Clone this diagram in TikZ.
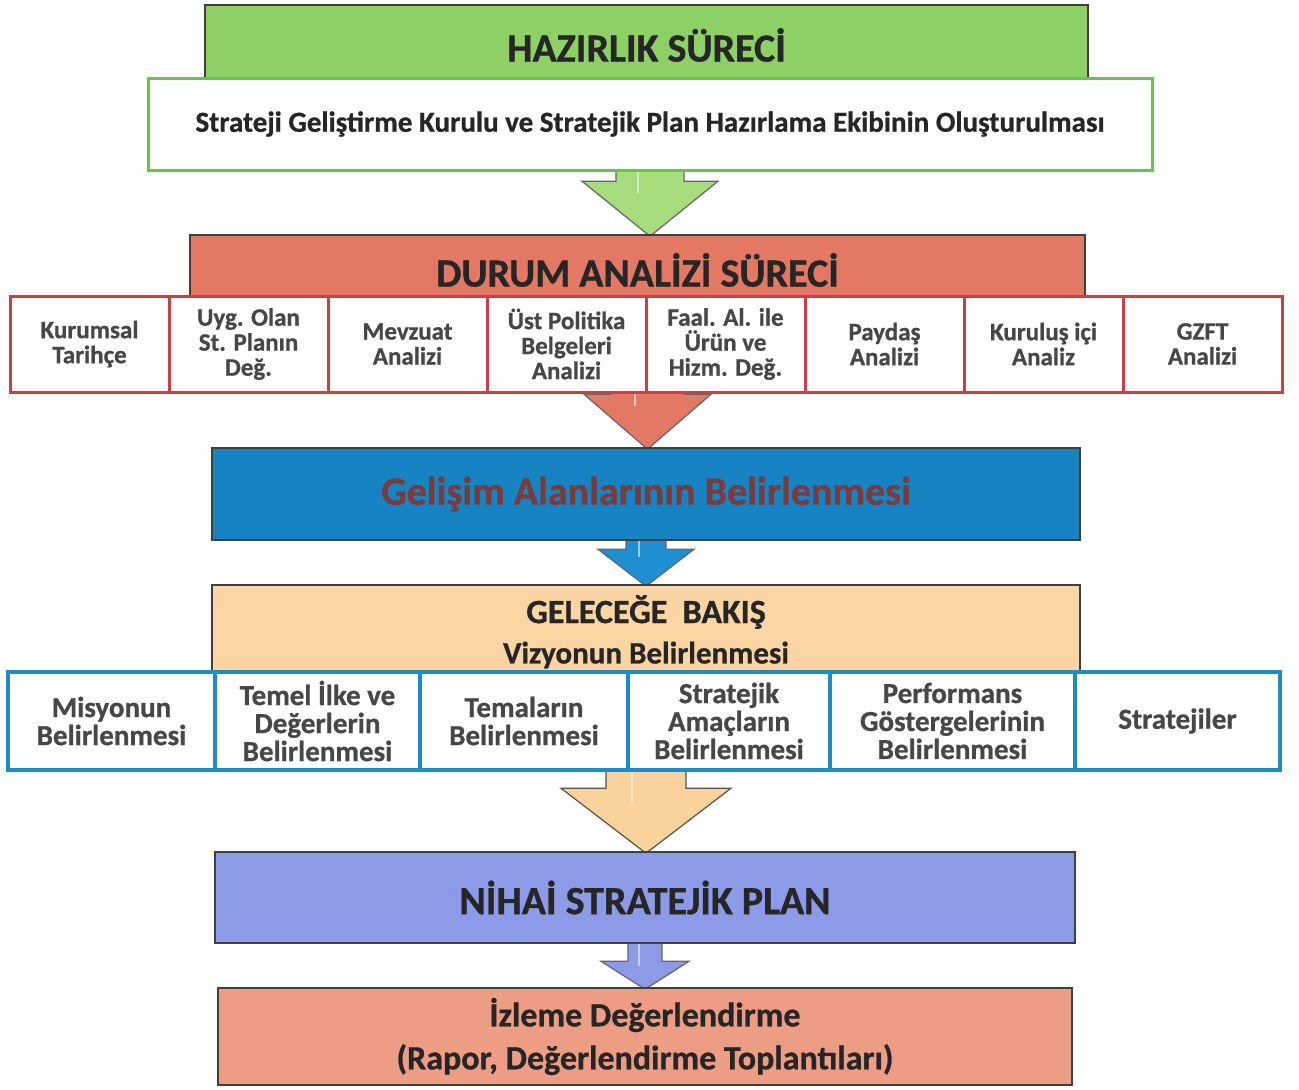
\documentclass[tikz,border=0pt]{standalone}
\usepackage{fontspec}
\setmainfont{Carlito}[BoldFeatures={FakeBold=0.8}]
\usetikzlibrary{calc}
\pgfdeclarelayer{background}
\pgfdeclarelayer{paper}
\pgfsetlayers{paper,background,main}
\definecolor{edge}{HTML}{3F3F3F}
\definecolor{greenfill}{HTML}{8CD066}
\definecolor{greenline}{HTML}{6CC24A}
\definecolor{greenarrow}{HTML}{A6DC7E}
\definecolor{redtitle}{HTML}{E37865}
\definecolor{redline}{HTML}{C8414A}
\definecolor{bluefill}{HTML}{1683C3}
\definecolor{bluetext}{HTML}{7B3B3B}
\definecolor{bluearrow}{HTML}{1E8FD0}
\definecolor{bluerow}{HTML}{1E8DC6}
\definecolor{peach}{HTML}{FBD5A3}
\definecolor{peacharrow}{HTML}{FAD39C}
\definecolor{peri}{HTML}{8C9AE8}
\definecolor{salmon}{HTML}{EE9D85}
\definecolor{txt}{HTML}{474747}
\definecolor{dtxt}{HTML}{262626}
\newcommand\blockarrow[7]{%
  \path[draw=#7, line width=1.2pt, fill=#6] let \p1=#1, \p2=#2 in
  (\x1-#3pt,\y1+10pt) -- (\x1+#3pt,\y1+10pt) -- (\x1+#3pt,\y2+#5pt-2pt) -- (\x1+#4pt,\y2+#5pt-2pt)
  -- (\x1,\y2-2pt) -- (\x1-#4pt,\y2+#5pt-2pt) -- (\x1-#3pt,\y2+#5pt-2pt) -- cycle;
  \path[draw=white, opacity=0.55, line width=2pt] let \p1=#1, \p2=#2 in
  (\x1-#3pt*0.35,\y1) -- (\x1-#3pt*0.35,\y2+#5pt*0.75);}
\begin{document}
\begin{tikzpicture}[x=1pt,y=-1pt,
  mainbox/.style={draw=edge, line width=1.5pt, inner sep=0pt},
  redbox/.style={draw=redline, line width=3pt, fill=white, inner sep=0pt, minimum width=159pt, minimum height=96pt,
    align=center, text=txt, font=\bfseries\fontsize{25}{25}\selectfont},
  bluebox/.style={draw=bluerow, line width=4pt, fill=white, inner sep=0pt, minimum height=98pt,
    align=center, text=txt, font=\bfseries\fontsize{29}{28}\selectfont}]
\begin{pgfonlayer}{paper}
\useasboundingbox[fill=white] (0,0) rectangle (1299,1090);
\end{pgfonlayer}

% ---- preparation
\node[mainbox, fill=greenfill, minimum width=883pt, minimum height=80pt, text=dtxt,
  font=\bfseries\fontsize{40}{40}\selectfont] (hazir) at (646.5,45) {HAZIRLIK SÜRECİ};
\node[draw=greenline, line width=3pt, fill=white, inner sep=0pt, minimum width=1004pt, minimum height=92pt,
  text=dtxt, font=\bfseries\fontsize{29}{29}\selectfont] (kurul) at (650,124)
  {Strateji Geliştirme Kurulu ve Stratejik Plan Hazırlama Ekibinin Oluşturulması};

% ---- situation analysis
\node[mainbox, fill=redtitle, minimum width=895pt, minimum height=70pt, text=dtxt,
  font=\bfseries\fontsize{40}{40}\selectfont] (durum) at (637.5,270) {DURUM ANALİZİ SÜRECİ};
\node[redbox] (r1) at (89.5,344) {Kurumsal\\Tarihçe};
\node[redbox] (r2) at (248.5,344) {Uyg. Olan\\St. Planın\\Değ.};
\node[redbox] (r3) at (407.5,344) {Mevzuat\\Analizi};
\node[redbox] (r4) at (566.5,344) {Üst Politika\\Belgeleri\\Analizi};
\node[redbox] (r5) at (725.5,344) {Faal. Al. ile\\Ürün ve\\Hizm. Değ.};
\node[redbox] (r6) at (884.5,344) {Paydaş\\Analizi};
\node[redbox] (r7) at (1043.5,344) {Kuruluş içi\\Analiz};
\node[redbox] (r8) at (1202.5,344) {GZFT\\Analizi};

% ---- development areas
\node[mainbox, fill=bluefill, minimum width=868pt, minimum height=92pt, text=bluetext,
  font=\bfseries\fontsize{40}{40}\selectfont] (gelisim) at (646,494) {Gelişim Alanlarının Belirlenmesi};

% ---- looking ahead
\node[mainbox, fill=peach, minimum width=868pt, minimum height=95pt] (peachbox) at (646,632.5) {};
\node[text=dtxt, font=\bfseries\fontsize{34}{34}\selectfont, inner sep=0pt] (gelecek) at (646,612) {GELECEĞE\ \ BAKIŞ};
\node[text=dtxt, font=\bfseries\fontsize{31}{31}\selectfont, inner sep=0pt] (vizyon) at (646,655) {Vizyonun Belirlenmesi};
\node[bluebox, minimum width=207pt] (m1) at (111.5,721) {Misyonun\\Belirlenmesi};
\node[bluebox, minimum width=205pt] (m2) at (317.5,721) {Temel İlke ve\\Değerlerin\\Belirlenmesi};
\node[bluebox, minimum width=208pt] (m3) at (524,721) {Temaların\\Belirlenmesi};
\node[bluebox, minimum width=202pt] (m4) at (729,721) {Stratejik\\Amaçların\\Belirlenmesi};
\node[bluebox, minimum width=245pt] (m5) at (952.5,721) {Performans\\Göstergelerinin\\Belirlenmesi};
\node[bluebox, minimum width=205pt] (m6) at (1177.5,721) {Stratejiler};

% ---- final plan
\node[mainbox, fill=peri, minimum width=860pt, minimum height=91pt, text=dtxt,
  font=\bfseries\fontsize{40}{40}\selectfont] (nihai) at (645,897.5) {NİHAİ STRATEJİK PLAN};
\node[mainbox, fill=salmon, minimum width=854pt, minimum height=97pt, text=dtxt, align=center,
  font=\bfseries\fontsize{34}{43}\selectfont] (izleme) at (645,1036.5)
  {İzleme Değerlendirme\\(Rapor, Değerlendirme Toplantıları)};

% ---- block arrows (behind the boxes they leave)
\begin{pgfonlayer}{background}
\blockarrow{(kurul.south)}{(durum.north)}{34}{68}{55}{greenarrow}{edge!80}
\blockarrow{(r4.south east)}{(gelisim.north)}{37}{63.5}{55}{redtitle}{edge!80}
\blockarrow{(gelisim.south)}{(peachbox.north)}{20}{48}{37}{bluearrow}{edge!80}
\blockarrow{(peachbox.south)}{(nihai.north)}{40}{85}{65}{peacharrow}{edge!90}
\blockarrow{(nihai.south)}{(izleme.north)}{17}{44}{28}{peri}{edge!80}
\end{pgfonlayer}
\end{tikzpicture}
\end{document}
